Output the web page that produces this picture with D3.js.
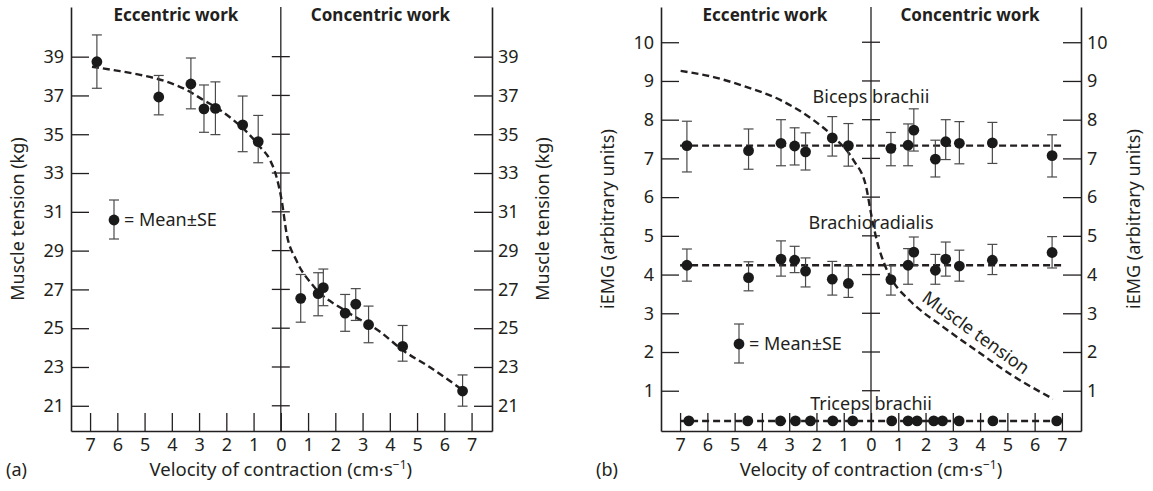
<!DOCTYPE html>
<html>
<head>
<meta charset="utf-8">
<script src="https://cdn.jsdelivr.net/npm/d3@7"></script>
<style>
body { margin: 0; background: #fff; }
text { font-family: "Noto Sans", sans-serif; fill: #231f20; }
</style>
</head>
<body>
<svg id="chart" width="1153" height="491"></svg>
<script>
// eccentric velocities are stored as negative numbers, axis shows them as positive
// (a) muscle tension
var tensionV    = [-6.75, -4.48, -3.30, -2.82, -2.40, -1.40, -0.83, 0.73, 1.37, 1.56, 2.36, 2.75, 3.22, 4.47, 6.67];
var tensionMean = [38.74, 36.92, 37.59, 36.31, 36.33, 35.48, 34.62, 26.54, 26.78, 27.09, 25.78, 26.24, 25.18, 24.06, 21.76];
var tensionHi   = [40.12, 38.03, 38.93, 37.54, 37.70, 36.97, 35.97, 27.77, 27.86, 28.05, 26.74, 27.04, 26.14, 25.14, 22.59];
var tensionLo   = [37.37, 36.00, 36.31, 35.10, 34.98, 34.10, 33.53, 25.31, 25.64, 26.16, 24.84, 25.40, 24.25, 23.30, 20.98];
var tensionFitV = [-6.93, -6.02, -5.16, -4.19, -3.45, -2.85, -2.23, -1.75, -1.26, -0.77, -0.40, -0.16, 0.03, 0.21, 0.57, 1.18, 2.41, 3.63, 4.48, 5.46, 6.62];
var tensionFitY = [38.48, 38.28, 38.06, 37.71, 37.28, 36.77, 36.25, 35.74, 35.13, 34.36, 33.68, 32.81, 31.60, 29.90, 28.50, 27.20, 25.86, 24.83, 23.86, 23.00, 21.86];
var tensionTicks = [21, 23, 25, 27, 29, 31, 33, 35, 37, 39];

// (b) iEMG
var emgV        = [-6.75, -4.49, -3.30, -2.80, -2.40, -1.42, -0.83, 0.73, 1.36, 1.57, 2.36, 2.74, 3.24, 4.45, 6.64];
var bicepsMean  = [7.33, 7.20, 7.39, 7.32, 7.17, 7.53, 7.33, 7.26, 7.34, 7.73, 6.98, 7.43, 7.39, 7.40, 7.07];
var bicepsHi    = [7.96, 7.76, 8.00, 7.79, 7.66, 8.08, 7.90, 7.67, 7.89, 8.28, 7.47, 8.00, 7.95, 7.93, 7.61];
var bicepsLo    = [6.65, 6.72, 6.81, 6.83, 6.70, 7.06, 6.80, 6.81, 6.81, 7.19, 6.52, 6.97, 6.86, 6.87, 6.52];
var brachioMean = [4.24, 3.92, 4.40, 4.37, 4.09, 3.88, 3.77, 3.87, 4.24, 4.58, 4.11, 4.40, 4.22, 4.37, 4.57];
var brachioHi   = [4.66, 4.33, 4.87, 4.73, 4.43, 4.34, 4.22, 4.24, 4.67, 4.97, 4.52, 4.84, 4.63, 4.78, 4.98];
var brachioLo   = [3.83, 3.58, 3.96, 4.05, 3.68, 3.47, 3.41, 3.47, 3.75, 4.24, 3.75, 3.96, 3.83, 4.00, 4.17];
var tricepsV    = [-6.68, -4.52, -3.32, -2.77, -2.22, -1.40, -0.67, 0.76, 1.36, 1.69, 2.30, 2.62, 3.23, 4.47, 6.81];
var tricepsMean = [0.22, 0.22, 0.22, 0.22, 0.22, 0.22, 0.22, 0.22, 0.22, 0.22, 0.22, 0.22, 0.22, 0.22, 0.22];
var meanLevels  = [7.33, 4.24, 0.22];
var emgFitV = [-6.98, -5.77, -4.55, -3.33, -2.11, -1.38, -0.65, -0.18, 0.0, 0.21, 0.51, 0.82, 1.42, 2.64, 3.86, 5.08, 6.67];
var emgFitY = [9.26, 9.10, 8.84, 8.51, 7.99, 7.56, 6.96, 6.27, 5.58, 4.89, 4.24, 3.81, 3.33, 2.65, 2.04, 1.44, 0.79];
var emgTicks = [1, 2, 3, 4, 5, 6, 7, 8, 9, 10];

var velTicks = d3.range(-7, 8);

var svg = d3.select("#chart");
var ink = "#231f20";
var fs = "18px";

function zip(xs, ys, hi, lo) {
    return xs.map(function(v, i) {
        return { v: v, y: ys[i], hi: hi ? hi[i] : null, lo: lo ? lo[i] : null };
    });
}

function drawPanel(p) {
    var g = svg.append("g");
    var x = d3.scaleLinear().domain(p.xDomain).range([p.left, p.right]);
    var y = d3.scaleLinear().domain(p.yDomain).range([431, 7]);

    var bottom = g.append("g")
        .attr("transform", "translate(0,431)")
        .call(d3.axisBottom(x).tickValues(velTicks).tickFormat(function(d) { return Math.abs(d); })
            .tickSizeInner(-18).tickSizeOuter(0).tickPadding(7));
    var leftAx = g.append("g")
        .attr("transform", "translate(" + p.left + ",0)")
        .call(d3.axisLeft(y).tickValues(p.yTicks).tickSizeInner(-18).tickSizeOuter(0).tickPadding(7));
    var rightAx = g.append("g")
        .attr("transform", "translate(" + p.right + ",0)")
        .call(d3.axisRight(y).tickValues(p.yTicks).tickSizeInner(-18).tickSizeOuter(0).tickPadding(6));

    [bottom, leftAx, rightAx].forEach(function(a) {
        a.selectAll("path").attr("stroke", ink).attr("stroke-width", 1.6);
        a.selectAll("line").attr("stroke", ink).attr("stroke-width", 1.3);
        a.selectAll("text").style("font-size", fs).attr("fill", ink);
    });

    // divider between eccentric and concentric
    var x0 = x(0);
    g.append("line").attr("x1", x0).attr("x2", x0).attr("y1", 7).attr("y2", 431)
        .attr("stroke", ink).attr("stroke-width", 1.3);
    g.selectAll(".cross").data(p.yTicks).enter().append("line")
        .attr("x1", x0 - 9).attr("x2", x0 + 9)
        .attr("y1", function(d) { return y(d); }).attr("y2", function(d) { return y(d); })
        .attr("stroke", ink).attr("stroke-width", 1.3);

    g.append("text").attr("x", (p.left + x0) / 2 + p.headShift).attr("y", 21)
        .attr("text-anchor", "middle").style("font-size", "17px").style("font-weight", "bold")
        .text("Eccentric work");
    g.append("text").attr("x", (x0 + p.right) / 2 - 6).attr("y", 21)
        .attr("text-anchor", "middle").style("font-size", "17px").style("font-weight", "bold")
        .text("Concentric work");

    [p.titleLeftX, p.titleRightX].forEach(function(tx) {
        g.append("text").attr("transform", "translate(" + tx + ",219) rotate(-90)")
            .attr("text-anchor", "middle").attr("dy", "0.35em").style("font-size", fs)
            .text(p.yTitle);
    });

    var xt = g.append("text").attr("x", x0).attr("y", 476).attr("text-anchor", "middle")
        .style("font-size", "18.5px");
    xt.append("tspan").text("Velocity of contraction (cm\u00b7s");
    xt.append("tspan").attr("dy", -7).style("font-size", "12px").text("\u22121");
    xt.append("tspan").attr("dy", 7).text(")");

    g.append("text").attr("x", p.tagX).attr("y", 476).style("font-size", fs).text(p.tag);

    return { g: g, x: x, y: y };
}

function dashed(g, x, y, vs, ys, curve) {
    var line = d3.line().x(function(d) { return x(d[0]); }).y(function(d) { return y(d[1]); })
        .curve(curve || d3.curveLinear);
    g.append("path").datum(vs.map(function(v, i) { return [v, ys[i]]; }))
        .attr("d", line).attr("fill", "none").attr("stroke", ink)
        .attr("stroke-width", 2.4).attr("stroke-dasharray", "7,4");
}

function points(g, x, y, data, r) {
    var withBars = data.filter(function(d) { return d.hi != null; });
    var bars = g.append("g").attr("stroke", "#4a4a4a").attr("stroke-width", 1.2);
    bars.selectAll(".v").data(withBars).enter().append("line")
        .attr("x1", function(d) { return x(d.v); }).attr("x2", function(d) { return x(d.v); })
        .attr("y1", function(d) { return y(d.hi); }).attr("y2", function(d) { return y(d.lo); });
    bars.selectAll(".t").data(withBars).enter().append("line")
        .attr("x1", function(d) { return x(d.v) - 5; }).attr("x2", function(d) { return x(d.v) + 5; })
        .attr("y1", function(d) { return y(d.hi); }).attr("y2", function(d) { return y(d.hi); });
    bars.selectAll(".b").data(withBars).enter().append("line")
        .attr("x1", function(d) { return x(d.v) - 5; }).attr("x2", function(d) { return x(d.v) + 5; })
        .attr("y1", function(d) { return y(d.lo); }).attr("y2", function(d) { return y(d.lo); });
    g.append("g").selectAll("circle").data(data).enter().append("circle")
        .attr("cx", function(d) { return x(d.v); }).attr("cy", function(d) { return y(d.y); })
        .attr("r", r).attr("fill", "#1a1a1a");
}

function legend(g, cx, cy) {
    g.append("line").attr("x1", cx).attr("x2", cx).attr("y1", cy - 20).attr("y2", cy + 19)
        .attr("stroke", "#4a4a4a").attr("stroke-width", 1.2);
    [cy - 20, cy + 19].forEach(function(yy) {
        g.append("line").attr("x1", cx - 5).attr("x2", cx + 5).attr("y1", yy).attr("y2", yy)
            .attr("stroke", "#4a4a4a").attr("stroke-width", 1.2);
    });
    g.append("circle").attr("cx", cx).attr("cy", cy).attr("r", 5.4).attr("fill", "#1a1a1a");
    g.append("text").attr("x", cx + 10).attr("y", cy).attr("dy", "0.35em")
        .style("font-size", fs).text("= Mean\u00b1SE");
}

// panel (a)
var a = drawPanel({
    xDomain: [-7.7, 7.75], yDomain: [19.7, 41.56], left: 71, right: 492,
    yTicks: tensionTicks, yTitle: "Muscle tension (kg)", titleLeftX: 18, titleRightX: 543,
    tag: "(a)", tagX: 6, headShift: 0
});
dashed(a.g, a.x, a.y, tensionFitV, tensionFitY, d3.curveMonotoneX);
points(a.g, a.x, a.y, zip(tensionV, tensionMean, tensionHi, tensionLo), 5.4);
legend(a.g, 114, 220);

// panel (b)
var b = drawPanel({
    xDomain: [-7.7, 7.7], yDomain: [-0.04, 10.91], left: 661, right: 1081,
    yTicks: emgTicks, yTitle: "iEMG (arbitrary units)", titleLeftX: 608, titleRightX: 1134,
    tag: "(b)", tagX: 596, headShift: -1
});
meanLevels.forEach(function(m) {
    dashed(b.g, b.x, b.y, [-7.0, 7.0], [m, m]);
});
dashed(b.g, b.x, b.y, emgFitV, emgFitY, d3.curveMonotoneX);
points(b.g, b.x, b.y, zip(emgV, bicepsMean, bicepsHi, bicepsLo), 5.4);
points(b.g, b.x, b.y, zip(emgV, brachioMean, brachioHi, brachioLo), 5.4);
points(b.g, b.x, b.y, zip(tricepsV, tricepsMean), 5.4);
legend(b.g, 739, 344);

[["Biceps brachii", 8.6], ["Brachioradialis", 5.33], ["Triceps brachii", 0.67]].forEach(function(l) {
    b.g.append("text").attr("x", b.x(0)).attr("y", b.y(l[1])).attr("dy", "0.35em")
        .attr("text-anchor", "middle").style("font-size", fs).text(l[0]);
});
b.g.append("text").attr("transform", "translate(" + b.x(3.85) + "," + b.y(2.5) + ") rotate(36)")
    .attr("text-anchor", "middle").attr("dy", "0.35em").style("font-size", fs)
    .text("Muscle tension");
</script>
</body>
</html>
